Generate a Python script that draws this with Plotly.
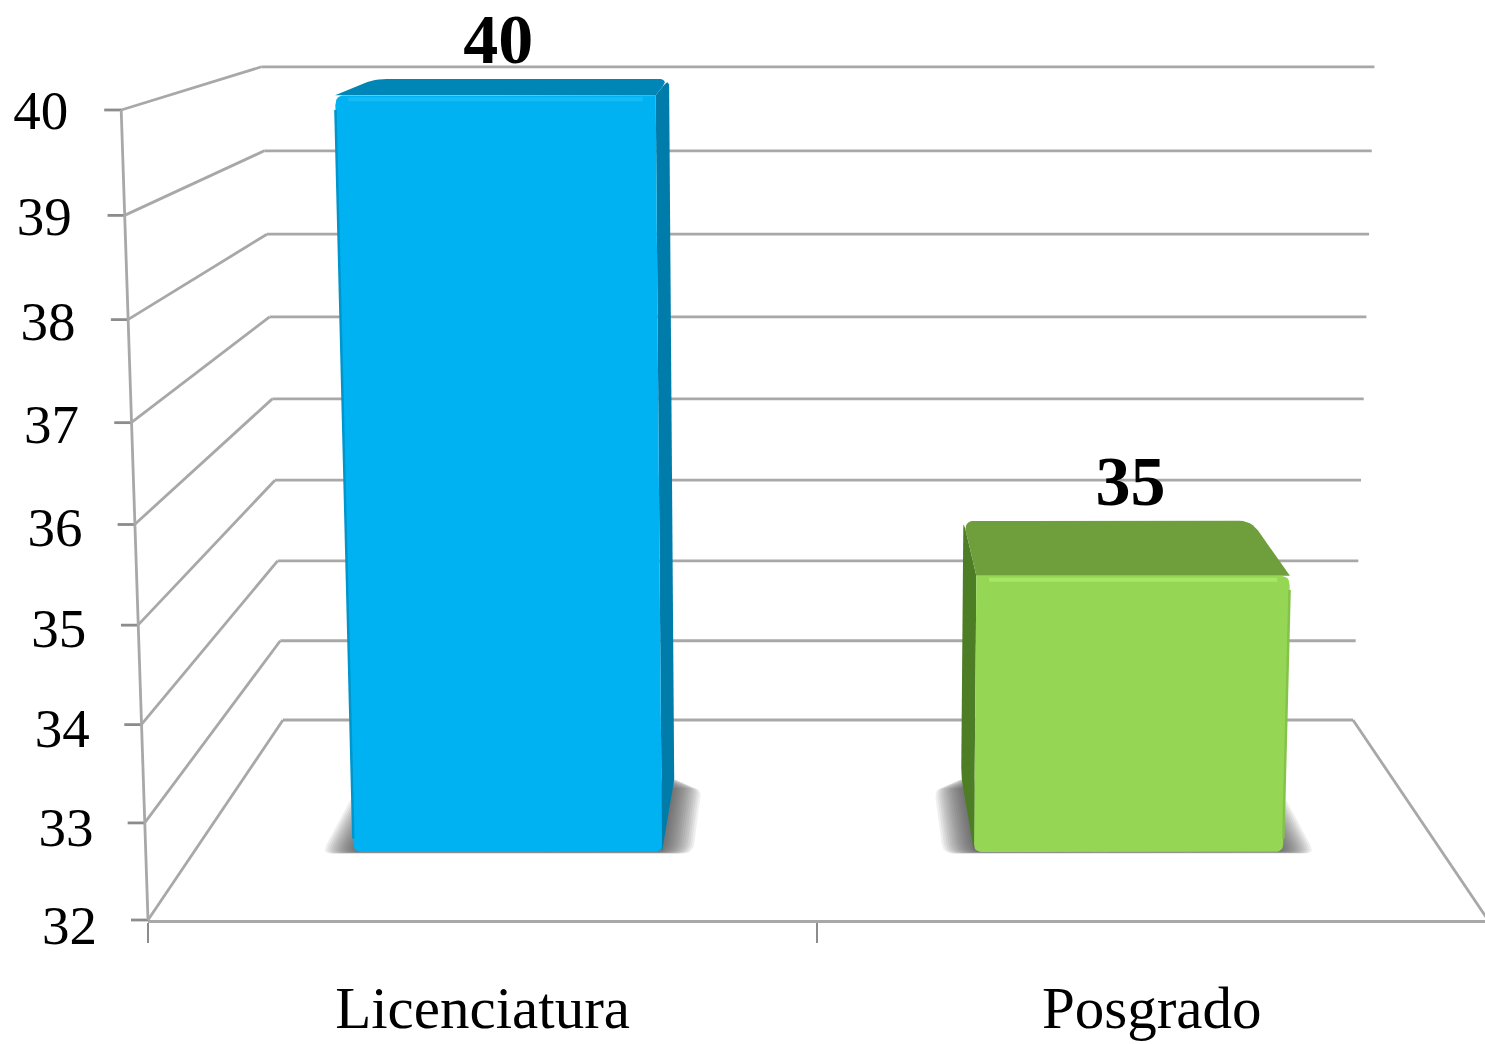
import plotly.graph_objects as go

categories = ["Licenciatura", "Posgrado"]
values = [40, 35]
value_ticks = [32, 33, 34, 35, 36, 37, 38, 39, 40]

W, H = 1485, 1044
GRID = "#a8a8a8"
SERIF = "Liberation Serif"
CX = 818            # vanishing centre
BAR_SPAN = [(-0.744, -0.25), (0.25, 0.745)]
D_FRONT, D_BACK = 0.34, 0.72
FACE = [
    dict(front="#00b2f2", top="#0086b6", side="#007cab", strip="#14bcf6", edge="#0096cc", side_u=1),
    dict(front="#95d654", top="#6f9e3c", side="#4d7d24", strip="#a8e665", edge="#84c249", side_u=0),
]


def project(u, v, d):
    """Perspective of the chart box: u across, v on the value scale, d into the depth."""
    t = v - value_ticks[0]
    y_front = 920 - 96.5 * t - 0.594 * t * t
    y_back = 720 - 78.9 * t - 0.344 * t * t
    half = 670 + (535 - 670) * d
    return CX + u * half * (1 + 0.005 * t), y_front + (y_back - y_front) * d


def rounded(points, radii):
    """Closed path through points, each corner softened by its own radius."""
    xs, ys = [], []
    n = len(points)
    for i, p in enumerate(points):
        r = radii[i]
        if not r:
            xs.append(p[0])
            ys.append(p[1])
            continue
        a, b = points[i - 1], points[(i + 1) % n]
        ends = []
        for q in (a, b):
            dx, dy = q[0] - p[0], q[1] - p[1]
            ln = (dx * dx + dy * dy) ** 0.5 or 1
            k = min(r, ln / 2) / ln
            ends.append((p[0] + dx * k, p[1] + dy * k))
        for j in range(7):
            s = j / 6
            xs.append((1 - s) ** 2 * ends[0][0] + 2 * s * (1 - s) * p[0] + s * s * ends[1][0])
            ys.append((1 - s) ** 2 * ends[0][1] + 2 * s * (1 - s) * p[1] + s * s * ends[1][1])
    xs.append(xs[0])
    ys.append(ys[0])
    return xs, ys


fig = go.Figure()


def add_line(points, width=2.8, color=GRID):
    fig.add_trace(go.Scatter(x=[p[0] for p in points], y=[p[1] for p in points], mode="lines",
                             line=dict(color=color, width=width), hoverinfo="skip", showlegend=False))


def add_face(points, color, radii):
    xs, ys = rounded(points, radii)
    fig.add_trace(go.Scatter(x=xs, y=ys, mode="lines", fill="toself", fillcolor=color,
                             line=dict(color=color, width=0), hoverinfo="skip", showlegend=False))


# walls and floor
for v in value_ticks:
    add_line([project(-1, v, 1), project(1, v, 1)])
    add_line([project(-1, v, 0), project(-1, v, 1)])
    x0, y0 = project(-1, v, 0)
    add_line([(x0 - 17, y0), (x0, y0)], color="#8c8c8c")
add_line([project(-1, value_ticks[0], 0), project(-1, value_ticks[-1], 0)])
add_line([project(1, value_ticks[0], 1), project(1, value_ticks[0], 0)])

# floor shadows
base = value_ticks[0]
STEPS = 14
for (u0, u1) in BAR_SPAN:
    for step in range(STEPS):
        e = 0.05 * (1 - step / STEPS)
        add_face([project(u0 - e, base, D_FRONT - e * 0.16),
                  project(u1 + e, base, D_FRONT - e * 0.16),
                  project(u1 + e, base, D_BACK - e * 1.2),
                  project(u0 - e, base, D_BACK - e * 1.2)], "rgba(70,70,70,0.085)", [10, 10, 10, 10])

# bars
for value, (u0, u1), f in zip(values, BAR_SPAN, FACE):
    side = u1 if f["side_u"] else u0
    add_face([project(side, base, D_FRONT), project(side, value, D_FRONT),
              project(side, value, D_BACK), project(side, base, D_BACK)], f["side"], [0, 0, 8, 8])
    add_face([project(u0, value, D_FRONT), project(u1, value, D_FRONT),
              project(u1, value, D_BACK), project(u0, value, D_BACK)], f["top"], [0, 0, 12, 12])
    inner_right, inner_left = (0, 10) if f["side_u"] else (10, 0)
    add_face([project(u0, base, D_FRONT), project(u1, base, D_FRONT),
              project(u1, value, D_FRONT), project(u0, value, D_FRONT)], f["front"],
             [8, 8, inner_right, inner_left])
    xa, ya = project(u0 + 0.02, value, D_FRONT)
    xb, yb = project(u1 - 0.02, value, D_FRONT)
    add_line([(xa, ya + 4), (xb, yb + 4)], width=4, color=f["strip"])
    outer = u0 if f["side_u"] else u1
    add_line([project(outer, base + 0.15, D_FRONT), project(outer, value - 0.15, D_FRONT)],
             width=2.5, color=f["edge"])

# value tick labels
lx, ly = [], []
for v in value_ticks:
    x, y = project(-1, v, 0)
    frac = (v - value_ticks[0]) / (value_ticks[-1] - value_ticks[0])
    lx.append(x - 51 - 2 * frac)
    ly.append(y + 10 - 5 * frac)
fig.add_trace(go.Scatter(x=lx, y=ly, mode="text", text=[str(v) for v in value_ticks],
                         textposition="middle left",
                         textfont=dict(family=SERIF, size=55, color="#000000"),
                         hoverinfo="skip", showlegend=False))

# data labels
dx, dy = [], []
for value, (u0, u1) in zip(values, BAR_SPAN):
    x, y = project((u0 + u1) / 2 * 1.08, value, D_BACK)
    dx.append(x)
    dy.append(y - 33)
fig.add_trace(go.Scatter(x=dx, y=dy, mode="text", text=[str(v) for v in values],
                         textposition="middle center",
                         textfont=dict(family=SERIF, size=70, color="#000000", weight="bold"),
                         hoverinfo="skip", showlegend=False))

# real category axis along the front floor edge
fig.add_trace(go.Scatter(x=categories, y=[values[0], values[1]], xaxis="x2", yaxis="y2", mode="markers",
                         marker=dict(opacity=0), hoverinfo="skip", showlegend=False))

fig.update_layout(
    width=W, height=H, margin=dict(l=0, r=0, t=0, b=0, pad=0),
    paper_bgcolor="#ffffff", plot_bgcolor="rgba(0,0,0,0)", showlegend=False,
    xaxis=dict(range=[0, W], visible=False, domain=[0, 1], fixedrange=True, automargin=False),
    yaxis=dict(range=[H, 0], visible=False, domain=[0, 1], fixedrange=True, automargin=False),
    xaxis2=dict(type="category", categoryorder="array", categoryarray=categories,
                range=[-0.5, 1.498], domain=[148 / W, 1], anchor="y2", automargin=False,
                showgrid=False, zeroline=False, showline=True, linecolor=GRID, linewidth=3,
                ticks="outside", ticklen=20, tickwidth=2, tickcolor="#8c8c8c", tickson="boundaries",
                ticklabelstandoff=34,
                tickfont=dict(family=SERIF, size=59, color="#000000"), fixedrange=True),
    yaxis2=dict(range=[value_ticks[0], value_ticks[-1]], visible=False,
                domain=[(H - 920) / H, 1], anchor="x2", fixedrange=True, automargin=False),
)

fig.write_html("out.html", post_script="document.body.style.margin='0';", config=dict(displayModeBar=False))
